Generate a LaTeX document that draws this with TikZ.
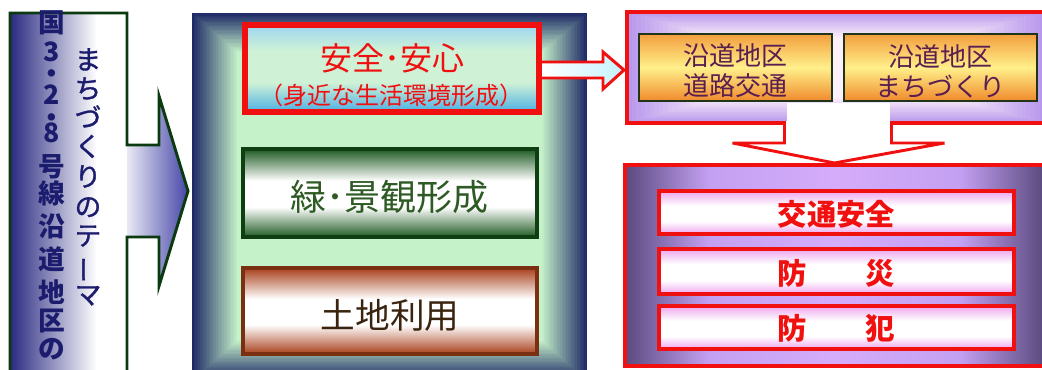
\documentclass[tikz,border=0pt]{standalone}
\usepackage{fontspec}
\setmainfont{Noto Sans CJK JP}
\newfontfamily\jpmed{Noto Sans CJK JP}[FakeBold=1.2]
\usepackage{graphicx}
\usetikzlibrary{calc}
\definecolor{bnavy}{HTML}{2A2A82}
\definecolor{barrow}{HTML}{4646A8}
\definecolor{bline}{HTML}{0C3A10}
\definecolor{btext}{HTML}{1C1C6E}
\definecolor{mnavy}{HTML}{1E2A66}
\definecolor{mgreen}{HTML}{C6F2CA}
\definecolor{rred}{HTML}{F01010}
\definecolor{redbgA}{HTML}{9ED6F0}
\definecolor{redbgB}{HTML}{CFF2D6}
\definecolor{redbgC}{HTML}{4CB0E4}
\definecolor{gdark}{HTML}{1E5A22}
\definecolor{gline}{HTML}{0E3E12}
\definecolor{gtext}{HTML}{2E5A24}
\definecolor{brdark}{HTML}{A8401C}
\definecolor{brline}{HTML}{7A3010}
\definecolor{brtext}{HTML}{3A2410}
\definecolor{orA}{HTML}{F08A2C}
\definecolor{orB}{HTML}{FFF08A}
\definecolor{oline}{HTML}{203418}
\definecolor{otext}{HTML}{5A1E50}
\definecolor{lavout}{HTML}{B898EC}
\definecolor{lavin}{HTML}{FCF0FA}
\definecolor{pslate}{HTML}{5A4A7E}
\definecolor{plav}{HTML}{C4A0F2}
\definecolor{plavc}{HTML}{D4ACFA}
\definecolor{ppink}{HTML}{EEA6EE}
\definecolor{acyan}{HTML}{C4F2FF}
\pgfdeclarehorizontalshading{bannerh}{100bp}{color(0bp)=(bnavy); color(25bp)=(bnavy); color(62bp)=(white); color(100bp)=(white)}
\pgfdeclarehorizontalshading{arrowh}{100bp}{color(0bp)=(white!88!barrow); color(25bp)=(white!88!barrow); color(75bp)=(barrow); color(100bp)=(barrow)}
\pgfdeclarehorizontalshading{cyanh}{100bp}{color(0bp)=(white); color(25bp)=(white); color(75bp)=(acyan); color(100bp)=(acyan)}
\pgfdeclareverticalshading{redbarv}{100bp}{color(0bp)=(redbgC); color(25bp)=(redbgC); color(42bp)=(redbgB); color(60bp)=(redbgB); color(75bp)=(redbgA); color(100bp)=(redbgA)}
\pgfdeclareverticalshading{greenv}{100bp}{color(0bp)=(gdark); color(25bp)=(gdark); color(42bp)=(white); color(57bp)=(white); color(75bp)=(gdark); color(100bp)=(gdark)}
\pgfdeclareverticalshading{brownv}{100bp}{color(0bp)=(brdark); color(25bp)=(brdark); color(42bp)=(white); color(57bp)=(white); color(75bp)=(brdark); color(100bp)=(brdark)}
\pgfdeclareverticalshading{orangev}{100bp}{color(0bp)=(orA); color(25bp)=(orA); color(50bp)=(orB); color(75bp)=(orA!80!orB); color(100bp)=(orA!80!orB)}
\pgfdeclareverticalshading{pinkv}{100bp}{color(0bp)=(ppink); color(25bp)=(ppink); color(40bp)=(white); color(58bp)=(white); color(75bp)=(ppink); color(100bp)=(ppink)}
\pgfdeclarehorizontalshading{purpleh}{100bp}{color(0bp)=(pslate); color(25bp)=(pslate); color(29bp)=(pslate!60!plav); color(35bp)=(plav); color(50bp)=(plavc); color(65bp)=(plav); color(71bp)=(pslate!60!plav); color(75bp)=(pslate); color(100bp)=(pslate)}
\newcommand\tatebar{\rotatebox[origin=c]{90}{ー}}
\begin{document}
\begin{tikzpicture}[x=0.75pt,y=-0.75pt,
  box/.style 2 args={minimum width=#1*0.75pt, minimum height=#2*0.75pt, inner sep=0pt},
  colA/.style={text=btext, font=\fontsize{20}{20}\selectfont\bfseries, inner sep=0pt, text height=0.5em, text depth=-0.26em},
  colB/.style={text=btext, font=\fontsize{20}{20}\selectfont\jpmed, inner sep=0pt, text height=0.5em, text depth=-0.26em},
  redframe/.style={draw=rred, line width=3pt},
  blockarrow/.style={draw=rred, line width=2.2pt, line join=miter},
  ortext/.style={text=otext, align=center, font=\fontsize{19.5}{22.5}\selectfont, inner sep=0pt},
  kadaitext/.style={text=rred, font=\fontsize{22}{22}\selectfont\bfseries, inner sep=0pt}]
\useasboundingbox (0,0) rectangle (1042,369);
\clip (0,0) rectangle (1042,369);
\fill[white] (0,0) rectangle (1042,369);

% middle frame (rectangular gradient)
\foreach \i in {0,...,30}{
  \pgfmathtruncatemacro\p{round(100*\i/30)}
  \fill[mgreen!\p!mnavy] ({192+1.5*\i},{13+1.3*\i}) rectangle ({587-1.5*\i},{380-1.3*\i});
}
\coordinate (theme) at (389.5,190);

% left banner with arrow
\path[shading=bannerh] (10,13) rectangle (127,380);
\path[shading=arrowh] (127,145) -- (159,145) -- (159,96) -- (188,191) -- (159,286) -- (159,237) -- (127,237) -- cycle;
\draw[bline, line width=2.2pt, line join=miter] (10,380) -- (10,13) -- (127,13) -- (127,145) -- (159,145) -- (159,96) -- (188,191) -- (159,286) -- (159,237) -- (127,237) -- (127,380);

\foreach \ch/\yy [count=\k] in {国/29,3/58,・/80,2/101,・/124,8/139,号/173,線/200,沿/233,道/266,地/299,区/327,の/355}
  \node[colA] (a\k) at (52,\yy) {\ch};
\foreach \ch/\yy [count=\k] in {ま/66,ち/95,づ/124,く/153,り/183,の/213,テ/242,\tatebar/272,マ/301}
  \node[colB] (b\k) at (88,\yy) {\ch};

% middle boxes
\node[box={294}{87}, draw=rred, line width=4.5pt, shading=redbarv] (anshin) at (392,68.5) {};
\node[box={294}{88}, draw=gline, line width=2.4pt, shading=greenv] (midori) at (390,193) {};
\node[box={294}{86}, draw=brline, line width=2.4pt, shading=brownv] (tochi) at (390,311) {};
\node[text=rred, font=\fontsize{24}{24}\selectfont, inner sep=0pt] (t1) at (392,58) {安全･安心};
\node[text=rred, font=\fontsize{18}{18}\selectfont, inner sep=0pt] (t2) at (391,95) {（身近な生活環境形成）};
\node[text=gtext, font=\fontsize{27}{27}\selectfont, inner sep=0pt] (t3) at (389,197) {緑･景観形成};
\node[text=brtext, font=\fontsize{26}{26}\selectfont, inner sep=0pt] (t4) at (390,315) {土地利用};

% top right container
\foreach \i in {0,...,20}{
  \pgfmathtruncatemacro\p{round(100*\i/20)}
  \fill[lavin!\p!lavout] ({627+4.5*\i},{12+1.25*\i}) rectangle ({1044-4.5*\i},{123-1.25*\i});
}
\node[box={417}{111}, redframe] (enso) at (835.5,67.5) {};
\node[box={193}{67}, draw=oline, line width=1.6pt, shading=orangev] (douro) at (735.5,67.5) {};
\node[box={193}{67}, draw=oline, line width=1.6pt, shading=orangev] (machi) at (940.5,67.5) {};
\node[ortext] (t5) at (735.5,71) {沿道地区\\道路交通};
\node[ortext] (t6) at (940.5,71) {沿道地区\\まちづくり};

% bottom right container
\node[box={419}{201}, redframe, shading=purpleh] (kadai) at (834.5,265.5) {};
\node[box={355}{43}, draw=rred, line width=2.4pt, shading=pinkv] (kotsu) at (836.5,212.5) {};
\node[box={355}{45}, draw=rred, line width=2.4pt, shading=pinkv] (bosai) at (836.5,271.5) {};
\node[box={355}{43}, draw=rred, line width=2.4pt, shading=pinkv] (bohan) at (836.5,327.5) {};
\node[kadaitext] (t7) at (836.5,214) {交通安全};
\node[kadaitext] (t8) at (836.5,273) {防　　災};
\node[kadaitext] (t9) at (836.5,328) {防　　犯};

% arrow: anshin -> enso
\path[shading=cyanh] ($(anshin.east)+(0,-6.5)$) -- ++(61,0) -- ++(0,-10) -- ($(enso.west)+(-1,2.5)$) -- ($(anshin.east)+(61,20.5)$) -- ++(0,-11) -- ($(anshin.east)+(0,9.5)$) -- cycle;
\draw[blockarrow] ($(anshin.east)+(0,-6.5)$) -- ++(61,0) -- ++(0,-10) -- ($(enso.west)+(-1,2.5)$) -- ($(anshin.east)+(61,20.5)$) -- ++(0,-11) -- ($(anshin.east)+(0,9.5)$);

% arrow: enso -> kadai
\fill[white] ($(enso.south)+(-49,-22)$) rectangle ($(enso.south)+(54,1)$);
\draw[blockarrow, fill=white] ($(enso.south)+(-51,-4)$) -- ++(0,22) -- ++(-52,0) -- (kadai.north) -- ($(enso.south)+(109,18)$) -- ++(-53,0) -- ++(0,-22);
\end{tikzpicture}
\end{document}
